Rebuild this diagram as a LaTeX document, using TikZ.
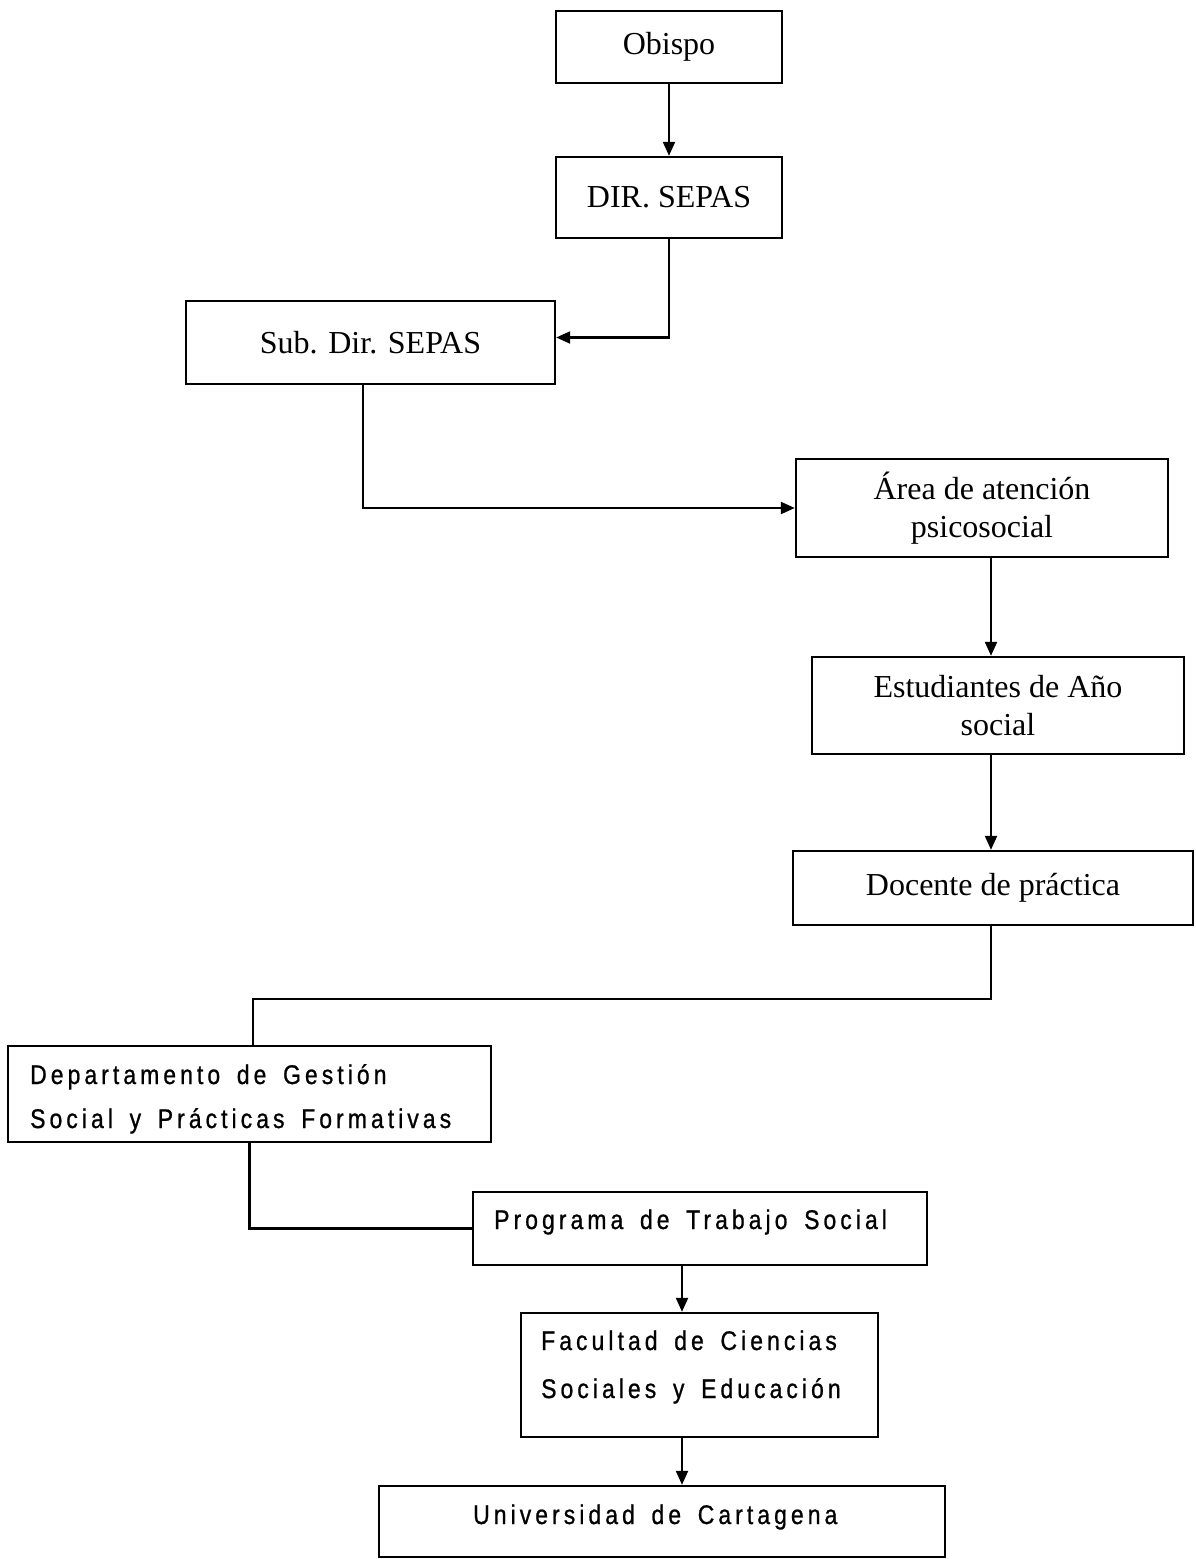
\documentclass[tikz,border=0pt]{standalone}
\usepackage{fontspec}
\setmainfont{Liberation Serif}
\newfontfamily\sansf[LetterSpace=15,WordSpace=1.6,FakeStretch=0.85,FakeBold=0.8]{Liberation Sans}
\usetikzlibrary{arrows.meta,calc}
\tikzset{
  box/.style={draw, line width=2.4pt, inner sep=0pt, align=center,
    font=\fontsize{32}{38}\selectfont},
  stxt/.style={anchor=base west, inner sep=0pt, font=\sansf\fontsize{27}{30}\selectfont},
  conn/.style={line width=2.2pt},
  arr/.style={line width=2.2pt, -{Triangle[length=14pt,width=12pt]}},
}
\begin{document}
\begin{tikzpicture}[x=1pt,y=-1pt]
\useasboundingbox[fill=white] (0,0) rectangle (1195,1559);

\node[box, minimum width=226, minimum height=72] (obispo) at (669,47) {Obispo};
\node[box, minimum width=226, minimum height=81] (dir) at (669,197.5) {DIR. SEPAS};
\node[box, minimum width=369, minimum height=83] (sub) at (370.5,342.5) {Sub. Dir. SEPAS};
\node[box, minimum width=372, minimum height=98] (area) at (982,508) {Área de atención\\psicosocial};
\node[box, minimum width=372, minimum height=97] (est) at (998,705.5) {Estudiantes de Año\\social};
\node[box, minimum width=400, minimum height=74] (doc) at (993,888) {Docente de práctica};

\node[box, minimum width=483, minimum height=96] (dep) at (249.5,1094) {};
\node[stxt] (dep1) at (30,1084) {Departamento de Gestión};
\node[stxt] (dep2) at (30,1128) {Social y Prácticas Formativas};

\node[box, minimum width=454, minimum height=73] (prog) at (700,1228.5) {};
\node[stxt] (prog1) at (494,1229) {Programa de Trabajo Social};

\node[box, minimum width=357, minimum height=124] (fac) at (699.5,1375) {};
\node[stxt] (fac1) at (541,1350) {Facultad de Ciencias};
\node[stxt] (fac2) at (541,1398) {Sociales y Educación};

\node[box, minimum width=566, minimum height=71] (uni) at (662,1521.5) {};
\node[stxt] (uni1) at (473,1524) {Universidad de Cartagena};

\coordinate (cB) at (363,0);
\coordinate (cC) at (991,0);
\coordinate (cD) at (682,0);
\coordinate (k1) at (253,999);

\draw[arr] (obispo) -- (dir);
\draw[arr] (dir.south) |- ([yshift=5pt]sub.east);
\draw[arr] (sub.south -| cB) |- (area.west);
\draw[arr] (area.south -| cC) -- (est.north -| cC);
\draw[arr] (est.south -| cC) -- (doc.north -| cC);
\draw[conn] (doc.south -| cC) |- (k1) -- (k1 |- dep.north);
\draw[conn] (dep.south) |- (prog.west);
\draw[arr] (prog.south -| cD) -- (fac.north -| cD);
\draw[arr] (fac.south -| cD) -- (uni.north -| cD);
\end{tikzpicture}
\end{document}
